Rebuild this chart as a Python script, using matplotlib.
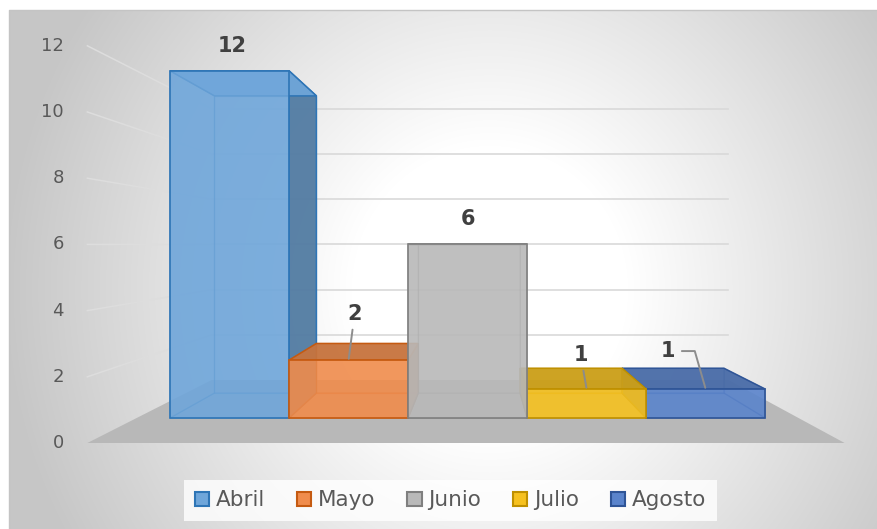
import numpy as np
import matplotlib
matplotlib.use("Agg")
import matplotlib.pyplot as plt
import matplotlib.colors as mcolors
from matplotlib.patches import Polygon, Patch

# ---------------- data ----------------
months = ["Abril", "Mayo", "Junio", "Julio", "Agosto"]
values = [12, 2, 6, 1, 1]
yticks = [0, 2, 4, 6, 8, 10, 12]
face_colors = ["#6fa6da", "#f08c4c", "#b9b9b9", "#f6c11f", "#5a84cc"]
edge_colors = ["#2e75b6", "#c55a11", "#7f7f7f", "#bf9000", "#2f5597"]

# ---------------- view / projection parameters ----------------
W_PX, H_PX = 877, 529
PX_X, PX_Y = 136.2, 33.1      # pixels per category / per value unit at the front plane
X0_PX, Y0_PX = 125.5, 443.0   # pixel of (category 0, value 0) at the front plane
XV, YV = 2.593, 5.994         # vanishing point (world units)
S_FRONT, S_BAR_F, S_BAR_B, S_WALL = 1.0, 0.874, 0.748, 0.6825
FLOOR_PAD = 0.28


def X_of(px):
    return (px - X0_PX) / PX_X


def Y_of(py):
    return (Y0_PX - py) / PX_Y


def proj(x, y, s):
    return (XV + (x - XV) * s, YV + (y - YV) * s)


def shade(c, f):
    return tuple(np.clip(np.array(mcolors.to_rgb(c)) * f, 0, 1))


def rgba(c, a):
    r, g, b = mcolors.to_rgb(c)
    return (r, g, b, a)


plt.rcParams["font.family"] = ["DejaVu Sans"]
fig = plt.figure(figsize=(W_PX / 100, H_PX / 100), dpi=100)
ax = fig.add_axes([0, 0, 1, 1])
ax.axis("off")

# ---------------- background gradient ----------------
yy, xx = np.mgrid[0:H_PX, 0:W_PX] + 0.5
cx, cy, a, b = 490, 290, 460, 480
r = np.hypot((xx - cx) / a, (yy - cy) / b)
t = np.clip((r - 0.3) / 0.75, 0, 1)
g = 1 - t * (1 - 0.78)
img = np.dstack([g, g, g])
img[(yy < 10) | (xx < 9)] = 1.0
ax.imshow(img, extent=(X_of(0), X_of(W_PX), Y_of(H_PX), Y_of(0)),
          origin="upper", aspect="auto", zorder=0, interpolation="bilinear")
ax.plot([X_of(9), X_of(9), X_of(W_PX)], [Y_of(H_PX), Y_of(10), Y_of(10)],
        color="#c4c4c4", lw=1, zorder=0.5)

xmin, xmax = -FLOOR_PAD, len(months) + FLOOR_PAD

# ---------------- floor ----------------
floor = [proj(xmin, 0, S_FRONT), proj(xmax, 0, S_FRONT),
         proj(xmax, 0, S_WALL), proj(xmin, 0, S_WALL)]
ax.add_patch(Polygon(floor, closed=True, facecolor="#b8b8b8", edgecolor="none", zorder=1))

# ---------------- gridlines ----------------
for v in yticks[1:]:
    p1, p2 = proj(xmin, v, S_WALL), proj(xmax, v, S_WALL)
    ax.plot([p1[0], p2[0]], [p1[1], p2[1]], color="#d9d9d9", lw=1.2, zorder=1.5)
    p0 = proj(xmin, v, S_FRONT)
    ax.plot([p0[0], p1[0]], [p0[1], p1[1]], color="#dddddd", lw=1.1, zorder=1.5)

# tick labels
for v in yticks:
    ax.annotate(str(v), xy=proj(xmin, v, S_FRONT), xytext=(-17, 0),
                textcoords="offset points", ha="right", va="center",
                fontsize=13, color="#595959", zorder=5)

# ---------------- bars ----------------
order = sorted(range(len(values)), key=lambda i: -abs(i + 0.5 - XV))
z = 2
for i in order:
    v = values[i]
    base, ec = face_colors[i], edge_colors[i]
    x0, x1 = i, i + 1
    f = lambda x, y: proj(x, y, S_BAR_F)
    bk = lambda x, y: proj(x, y, S_BAR_B)
    back = [bk(x0, 0), bk(x1, 0), bk(x1, v), bk(x0, v)]
    bottom = [f(x0, 0), f(x1, 0), bk(x1, 0), bk(x0, 0)]
    left = [f(x0, 0), bk(x0, 0), bk(x0, v), f(x0, v)]
    right = [f(x1, 0), bk(x1, 0), bk(x1, v), f(x1, v)]
    top = [f(x0, v), f(x1, v), bk(x1, v), bk(x0, v)]
    front = [f(x0, 0), f(x1, 0), f(x1, v), f(x0, v)]

    hidden_fc = rgba(base, 0.45)
    hidden_ec = rgba(ec, 0.45)
    for poly in (back, bottom):
        ax.add_patch(Polygon(poly, closed=True, facecolor=hidden_fc, edgecolor=hidden_ec,
                             lw=0.9, zorder=z)); z += 0.01
    if x1 <= XV:
        vis, hid = right, left
    elif x0 >= XV:
        vis, hid = left, right
    else:
        vis, hid = None, None
    sides = [left, right] if vis is None else [hid]
    for poly in sides:
        ax.add_patch(Polygon(poly, closed=True, facecolor=hidden_fc, edgecolor=hidden_ec,
                             lw=0.9, zorder=z)); z += 0.01
    if vis is not None:
        ax.add_patch(Polygon(vis, closed=True, facecolor=rgba(shade(base, 0.74), 0.92),
                             edgecolor=ec, lw=1.1, zorder=z)); z += 0.01
    top_f = 1.0 if v > YV else 0.82
    ax.add_patch(Polygon(top, closed=True, facecolor=rgba(shade(base, top_f), 0.92),
                         edgecolor=ec, lw=1.1, zorder=z)); z += 0.01
    ax.add_patch(Polygon(front, closed=True, facecolor=rgba(base, 0.82),
                         edgecolor=ec, lw=1.2, zorder=z)); z += 0.01

# ---------------- data labels ----------------
label_offsets = [(3, -25), (6, -46), (0, -25), (-6, -34), (-38, -38)]  # pixels
leaders = [None, "straight", None, "straight", "elbow"]
for i, v in enumerate(values):
    dx, dy = label_offsets[i]
    kw = {}
    if leaders[i] == "straight":
        kw["arrowprops"] = dict(arrowstyle="-", color="#8c8c8c", lw=1.4,
                                shrinkA=2, shrinkB=1)
    elif leaders[i] == "elbow":
        kw["arrowprops"] = dict(arrowstyle="-", color="#8c8c8c", lw=1.4,
                                shrinkA=3, shrinkB=1,
                                connectionstyle="angle,angleA=0,angleB=106,rad=0")
    ax.annotate(str(v), xy=proj(i + 0.5, v, S_BAR_F), xytext=(dx * 0.72, -dy * 0.72),
                textcoords="offset points", ha="center", va="center",
                fontsize=15, fontweight="bold", color="#404040", zorder=20, **kw)

ax.set_xlim(X_of(0), X_of(W_PX))
ax.set_ylim(Y_of(H_PX), Y_of(0))

# ---------------- legend ----------------
handles = [Patch(facecolor=fc, edgecolor=ec, linewidth=1.5)
           for fc, ec in zip(face_colors, edge_colors)]
leg = fig.legend(handles, months, loc="center", bbox_to_anchor=(450.5 / W_PX, 1 - 500.5 / H_PX),
                 ncol=5, fontsize=15.5, frameon=True, fancybox=False,
                 handlelength=0.66, handleheight=0.66, handletextpad=0.3,
                 columnspacing=1.5, borderpad=0.5, borderaxespad=0,
                 labelcolor="#595959")
leg.get_frame().set_facecolor((1, 1, 1, 0.22))
leg.get_frame().set_edgecolor("none")

fig.savefig("out.png", dpi=100)
